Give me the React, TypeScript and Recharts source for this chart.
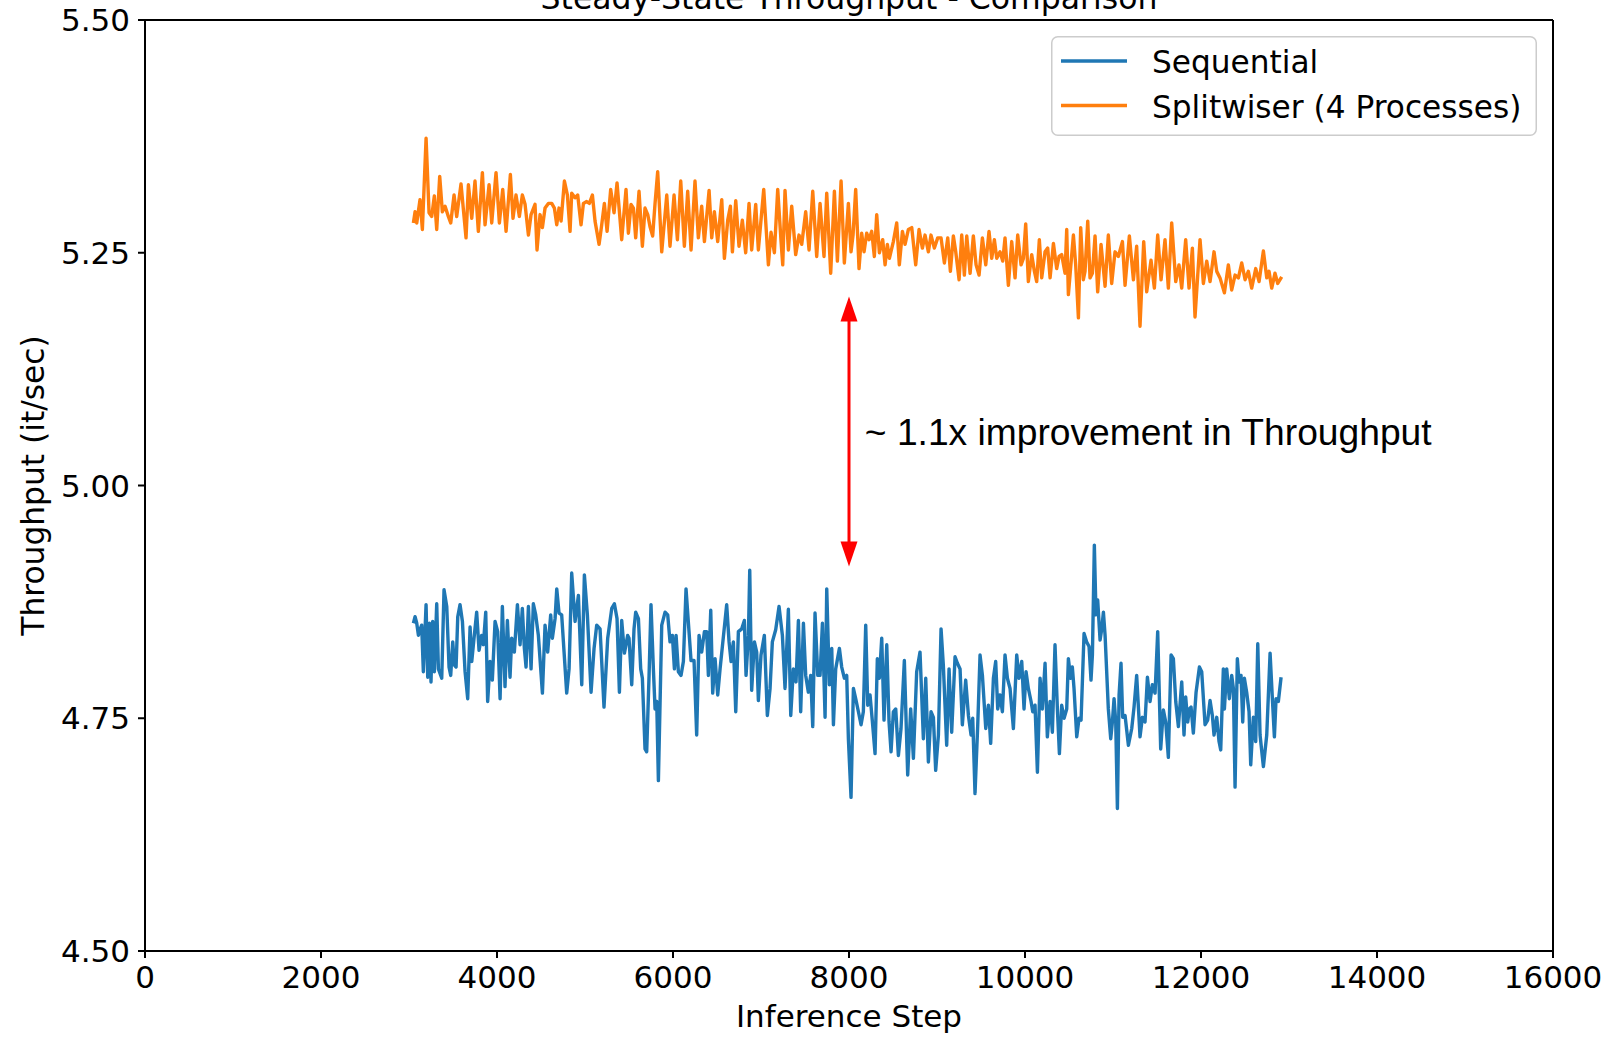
import {
  LineChart, Line, XAxis, YAxis, ReferenceLine, ReferenceDot, Legend, Label,
} from "recharts";

const FONT = '"DejaVu Sans", sans-serif';
const NOTE_FONT = '"Liberation Sans", Arial, sans-serif';

const X_TICKS = [0, 2000, 4000, 6000, 8000, 10000, 12000, 14000, 16000];
const Y_TICKS = [4.5, 4.75, 5.0, 5.25, 5.5];

// [inference step, it/sec]
const SEQUENTIAL: [number, number][] = [
  [3050, 4.852], [3069, 4.859], [3088, 4.852], [3107, 4.839], [3125, 4.845], [3144, 4.850],
  [3163, 4.800], [3194, 4.872], [3213, 4.794], [3232, 4.852], [3250, 4.789], [3269, 4.854],
  [3288, 4.800], [3315, 4.873], [3334, 4.803], [3372, 4.793], [3398, 4.888], [3429, 4.870],
  [3455, 4.805], [3474, 4.796], [3497, 4.832], [3516, 4.807], [3535, 4.805], [3554, 4.859],
  [3580, 4.872], [3607, 4.854], [3637, 4.800], [3667, 4.771], [3694, 4.848], [3713, 4.811],
  [3739, 4.836], [3769, 4.864], [3796, 4.823], [3826, 4.839], [3845, 4.829], [3872, 4.864],
  [3894, 4.768], [3921, 4.811], [3947, 4.791], [3978, 4.854], [4008, 4.843], [4035, 4.771],
  [4061, 4.870], [4091, 4.784], [4118, 4.855], [4148, 4.794], [4167, 4.836], [4197, 4.821],
  [4232, 4.872], [4262, 4.829], [4288, 4.868], [4311, 4.825], [4330, 4.805], [4357, 4.870],
  [4387, 4.803], [4413, 4.873], [4440, 4.861], [4470, 4.839], [4516, 4.777], [4546, 4.850],
  [4576, 4.821], [4610, 4.861], [4629, 4.836], [4660, 4.857], [4679, 4.889], [4705, 4.863],
  [4735, 4.861], [4792, 4.777], [4819, 4.803], [4849, 4.906], [4887, 4.854], [4925, 4.882],
  [4963, 4.786], [4993, 4.904], [5027, 4.861], [5069, 4.778], [5103, 4.825], [5133, 4.850],
  [5171, 4.846], [5216, 4.762], [5258, 4.836], [5304, 4.868], [5334, 4.873], [5364, 4.857],
  [5391, 4.778], [5417, 4.855], [5448, 4.820], [5485, 4.839], [5500, 4.836], [5531, 4.786],
  [5557, 4.846], [5576, 4.864], [5607, 4.857], [5633, 4.803], [5652, 4.793], [5682, 4.717],
  [5701, 4.714], [5728, 4.796], [5750, 4.872], [5777, 4.803], [5796, 4.760], [5815, 4.768],
  [5834, 4.683], [5872, 4.850], [5910, 4.864], [5940, 4.861], [5966, 4.832], [5993, 4.839],
  [6016, 4.803], [6035, 4.839], [6061, 4.800], [6091, 4.796], [6118, 4.811], [6148, 4.889],
  [6182, 4.843], [6205, 4.812], [6239, 4.812], [6269, 4.732], [6296, 4.839], [6326, 4.821],
  [6357, 4.843], [6383, 4.843], [6402, 4.796], [6429, 4.866], [6451, 4.777], [6478, 4.814],
  [6508, 4.775], [6535, 4.803], [6561, 4.827], [6610, 4.872], [6637, 4.832], [6660, 4.811],
  [6686, 4.832], [6713, 4.757], [6743, 4.843], [6781, 4.846], [6811, 4.855], [6830, 4.796],
  [6857, 4.839], [6872, 4.909], [6894, 4.780], [6925, 4.832], [6951, 4.821], [6970, 4.769],
  [7000, 4.818], [7038, 4.839], [7072, 4.753], [7103, 4.782], [7129, 4.832], [7167, 4.845],
  [7205, 4.870], [7243, 4.839], [7273, 4.782], [7311, 4.867], [7338, 4.753], [7368, 4.803],
  [7398, 4.789], [7425, 4.855], [7451, 4.757], [7482, 4.852], [7508, 4.796], [7538, 4.778],
  [7565, 4.796], [7588, 4.741], [7614, 4.863], [7645, 4.796], [7671, 4.796], [7698, 4.852],
  [7728, 4.751], [7747, 4.889], [7777, 4.786], [7804, 4.825], [7823, 4.743], [7849, 4.803],
  [7891, 4.825], [7917, 4.805], [7947, 4.793], [7974, 4.796], [7993, 4.728], [8023, 4.665],
  [8050, 4.782], [8076, 4.771], [8107, 4.757], [8137, 4.743], [8163, 4.757], [8190, 4.850],
  [8213, 4.764], [8239, 4.775], [8266, 4.746], [8296, 4.712], [8322, 4.814], [8345, 4.793],
  [8372, 4.836], [8398, 4.748], [8429, 4.829], [8455, 4.746], [8478, 4.714], [8504, 4.757],
  [8531, 4.760], [8561, 4.710], [8591, 4.739], [8629, 4.812], [8667, 4.689], [8701, 4.760],
  [8732, 4.707], [8769, 4.800], [8807, 4.821], [8845, 4.728], [8872, 4.793], [8902, 4.703],
  [8932, 4.757], [8959, 4.751], [8985, 4.694], [9016, 4.732], [9046, 4.846], [9072, 4.807],
  [9110, 4.721], [9137, 4.803], [9167, 4.735], [9205, 4.816], [9232, 4.809], [9262, 4.803],
  [9288, 4.743], [9326, 4.791], [9357, 4.753], [9387, 4.732], [9406, 4.750], [9432, 4.669],
  [9463, 4.743], [9489, 4.818], [9516, 4.796], [9554, 4.739], [9584, 4.764], [9610, 4.723],
  [9641, 4.793], [9667, 4.811], [9690, 4.760], [9716, 4.775], [9743, 4.757], [9773, 4.818],
  [9800, 4.793], [9830, 4.782], [9868, 4.739], [9906, 4.818], [9932, 4.793], [9963, 4.811],
  [9989, 4.760], [10012, 4.800], [10038, 4.782], [10069, 4.768], [10088, 4.757], [10114, 4.764],
  [10141, 4.692], [10171, 4.793], [10197, 4.760], [10228, 4.809], [10254, 4.730], [10285, 4.768],
  [10311, 4.735], [10341, 4.829], [10368, 4.760], [10391, 4.712], [10417, 4.764], [10444, 4.750],
  [10474, 4.760], [10493, 4.814], [10519, 4.793], [10538, 4.805], [10557, 4.782], [10588, 4.730],
  [10614, 4.750], [10637, 4.748], [10671, 4.841], [10701, 4.832], [10728, 4.827], [10750, 4.791],
  [10766, 4.818], [10788, 4.936], [10807, 4.861], [10826, 4.877], [10853, 4.834], [10872, 4.846],
  [10891, 4.864], [10910, 4.839], [10947, 4.760], [10974, 4.728], [10993, 4.746], [11012, 4.771],
  [11031, 4.746], [11050, 4.653], [11069, 4.775], [11091, 4.809], [11110, 4.751], [11137, 4.753],
  [11175, 4.721], [11213, 4.739], [11239, 4.762], [11269, 4.796], [11307, 4.730], [11334, 4.751],
  [11364, 4.746], [11391, 4.794], [11421, 4.768], [11447, 4.786], [11478, 4.777], [11508, 4.843],
  [11542, 4.717], [11572, 4.759], [11599, 4.746], [11629, 4.708], [11660, 4.818], [11686, 4.814],
  [11713, 4.768], [11743, 4.741], [11781, 4.789], [11807, 4.732], [11826, 4.773], [11849, 4.746],
  [11868, 4.760], [11887, 4.762], [11913, 4.734], [11944, 4.778], [11982, 4.805], [12008, 4.800],
  [12046, 4.743], [12076, 4.748], [12103, 4.769], [12129, 4.753], [12148, 4.732], [12179, 4.751],
  [12205, 4.725], [12224, 4.716], [12254, 4.803], [12266, 4.760], [12292, 4.803], [12322, 4.771],
  [12349, 4.796], [12368, 4.782], [12387, 4.676], [12413, 4.814], [12432, 4.789], [12455, 4.796],
  [12474, 4.746], [12493, 4.793], [12519, 4.778], [12546, 4.757], [12565, 4.700], [12595, 4.751],
  [12622, 4.725], [12645, 4.830], [12671, 4.732], [12709, 4.698], [12747, 4.732], [12785, 4.820],
  [12811, 4.771], [12834, 4.730], [12853, 4.771], [12879, 4.768], [12910, 4.794],
];

const SPLITWISER: [number, number][] = [
  [3050, 5.282], [3069, 5.294], [3088, 5.282], [3125, 5.307], [3152, 5.275], [3194, 5.373],
  [3228, 5.293], [3258, 5.289], [3288, 5.311], [3315, 5.275], [3349, 5.332], [3379, 5.294],
  [3410, 5.300], [3447, 5.289], [3474, 5.282], [3512, 5.312], [3542, 5.289], [3591, 5.324],
  [3648, 5.266], [3675, 5.323], [3713, 5.287], [3750, 5.327], [3788, 5.273], [3834, 5.336],
  [3864, 5.280], [3910, 5.323], [3940, 5.282], [3989, 5.336], [4027, 5.282], [4065, 5.318],
  [4103, 5.273], [4152, 5.334], [4182, 5.287], [4216, 5.312], [4254, 5.289], [4288, 5.312],
  [4319, 5.302], [4357, 5.269], [4387, 5.291], [4432, 5.302], [4455, 5.253], [4489, 5.291],
  [4516, 5.277], [4546, 5.298], [4584, 5.303], [4622, 5.303], [4652, 5.298], [4679, 5.280],
  [4705, 5.298], [4728, 5.284], [4766, 5.327], [4800, 5.312], [4830, 5.273], [4849, 5.314],
  [4887, 5.309], [4917, 5.312], [4955, 5.280], [4982, 5.303], [5019, 5.305], [5050, 5.303],
  [5084, 5.312], [5114, 5.284], [5160, 5.259], [5190, 5.280], [5220, 5.303], [5251, 5.273],
  [5292, 5.318], [5330, 5.293], [5364, 5.325], [5417, 5.264], [5466, 5.318], [5493, 5.271],
  [5523, 5.302], [5550, 5.298], [5576, 5.266], [5614, 5.316], [5652, 5.257], [5682, 5.298],
  [5713, 5.291], [5739, 5.278], [5769, 5.268], [5796, 5.303], [5826, 5.337], [5872, 5.251],
  [5929, 5.312], [5966, 5.257], [6012, 5.312], [6050, 5.264], [6088, 5.327], [6129, 5.257],
  [6167, 5.316], [6205, 5.253], [6250, 5.327], [6288, 5.266], [6326, 5.300], [6357, 5.262],
  [6410, 5.317], [6440, 5.266], [6470, 5.294], [6508, 5.262], [6554, 5.307], [6584, 5.244],
  [6622, 5.285], [6652, 5.300], [6675, 5.251], [6713, 5.306], [6750, 5.257], [6788, 5.285],
  [6826, 5.250], [6864, 5.303], [6894, 5.253], [6940, 5.302], [6970, 5.253], [7031, 5.318],
  [7084, 5.237], [7114, 5.272], [7152, 5.250], [7190, 5.318], [7228, 5.262], [7247, 5.237],
  [7273, 5.317], [7311, 5.253], [7349, 5.300], [7394, 5.248], [7432, 5.269], [7463, 5.259],
  [7508, 5.294], [7546, 5.253], [7588, 5.316], [7633, 5.246], [7671, 5.303], [7716, 5.246],
  [7747, 5.314], [7792, 5.228], [7834, 5.316], [7868, 5.241], [7910, 5.327], [7947, 5.239],
  [7993, 5.303], [8023, 5.251], [8046, 5.269], [8076, 5.318], [8114, 5.233], [8144, 5.271],
  [8171, 5.251], [8201, 5.271], [8228, 5.264], [8258, 5.273], [8288, 5.246], [8315, 5.291],
  [8345, 5.250], [8383, 5.264], [8410, 5.237], [8436, 5.259], [8459, 5.244], [8504, 5.262],
  [8542, 5.282], [8572, 5.237], [8607, 5.273], [8637, 5.259], [8675, 5.275], [8713, 5.277],
  [8758, 5.237], [8796, 5.275], [8834, 5.255], [8864, 5.269], [8902, 5.251], [8932, 5.269],
  [8970, 5.255], [9008, 5.266], [9046, 5.266], [9084, 5.239], [9122, 5.266], [9152, 5.230],
  [9186, 5.268], [9213, 5.251], [9251, 5.221], [9281, 5.269], [9311, 5.226], [9338, 5.268],
  [9376, 5.228], [9413, 5.268], [9444, 5.237], [9478, 5.226], [9516, 5.266], [9554, 5.237],
  [9591, 5.273], [9622, 5.244], [9652, 5.264], [9679, 5.244], [9716, 5.251], [9747, 5.241],
  [9773, 5.266], [9811, 5.215], [9849, 5.262], [9887, 5.223], [9917, 5.269], [9955, 5.237],
  [9982, 5.244], [10008, 5.281], [10038, 5.219], [10076, 5.248], [10107, 5.230], [10133, 5.219],
  [10163, 5.264], [10190, 5.223], [10228, 5.251], [10258, 5.255], [10285, 5.223], [10323, 5.260],
  [10360, 5.233], [10387, 5.246], [10417, 5.248], [10455, 5.228], [10474, 5.275], [10493, 5.205],
  [10550, 5.269], [10576, 5.237], [10607, 5.180], [10633, 5.277], [10663, 5.221], [10682, 5.230],
  [10713, 5.284], [10739, 5.223], [10766, 5.228], [10796, 5.268], [10826, 5.208], [10864, 5.259],
  [10910, 5.214], [10947, 5.269], [10985, 5.217], [11023, 5.251], [11061, 5.246], [11107, 5.262],
  [11137, 5.215], [11186, 5.268], [11232, 5.221], [11269, 5.257], [11307, 5.171], [11349, 5.262],
  [11383, 5.208], [11432, 5.242], [11470, 5.212], [11508, 5.269], [11546, 5.221], [11591, 5.264],
  [11629, 5.212], [11667, 5.282], [11713, 5.219], [11750, 5.237], [11781, 5.212], [11826, 5.264],
  [11864, 5.212], [11902, 5.255], [11932, 5.181], [11989, 5.264], [12027, 5.217], [12065, 5.241],
  [12103, 5.219], [12148, 5.251], [12179, 5.230], [12216, 5.223], [12266, 5.207], [12311, 5.237],
  [12349, 5.210], [12387, 5.226], [12425, 5.223], [12463, 5.239], [12501, 5.221], [12538, 5.230],
  [12576, 5.212], [12622, 5.233], [12660, 5.219], [12709, 5.252], [12747, 5.223], [12773, 5.230],
  [12804, 5.212], [12841, 5.228], [12872, 5.217], [12917, 5.224],
];

// red double arrow + note
const ARROW_STEP = 8000;
const ARROW_LOW = 4.913;
const ARROW_HIGH = 5.203;
const NOTE_STEP = 8180;
const NOTE_VALUE = 5.0435;
const NOTE_TEXT = "~ 1.1x improvement in Throughput";

const seqData = SEQUENTIAL.map(([step, v]) => ({ step, v }));
const splitData = SPLITWISER.map(([step, v]) => ({ step, v }));

function ArrowShape(p: any) {
  const x = p.x1;
  const top = Math.min(p.y1, p.y2);
  const bot = Math.max(p.y1, p.y2);
  const len = 25, half = 8.5;
  return (
    <g>
      <line x1={x} y1={top + len - 2} x2={x} y2={bot - len + 2} stroke="#ff0000" strokeWidth={3} />
      <polygon points={`${x},${top} ${x - half},${top + len} ${x + half},${top + len}`} fill="#ff0000" />
      <polygon points={`${x},${bot} ${x - half},${bot - len} ${x + half},${bot - len}`} fill="#ff0000" />
    </g>
  );
}

function NoteShape(p: any) {
  return (
    <text x={p.cx} y={p.cy} fontSize={37.2} fontFamily={NOTE_FONT} fill="#000">
      {NOTE_TEXT}
    </text>
  );
}

function YTitle(p: any) {
  const vb = p.viewBox || { x: 0, y: 20, height: 931 };
  const cx = vb.x + 44;
  const cy = vb.y + vb.height / 2;
  return (
    <text x={cx} y={cy} transform={`rotate(-90, ${cx}, ${cy})`} textAnchor="middle"
      fontSize={31.3} fontFamily={FONT} fill="#000">
      Throughput (it/sec)
    </text>
  );
}

function LegendBox() {
  return (
    <svg width={486} height={100} style={{ display: "block" }}>
      <rect x={0.75} y={0.75} width={484.5} height={98.5} rx={6} fill="#fff" fillOpacity={0.8} stroke="#cccccc" strokeWidth={1.5} />
      <line x1={10} y1={25} x2={76} y2={25} stroke="#1f77b4" strokeWidth={3.4} />
      <text x={101} y={37} fontSize={31.2} fontFamily={FONT} fill="#000">Sequential</text>
      <line x1={10} y1={69.5} x2={76} y2={69.5} stroke="#ff7f0e" strokeWidth={3.4} />
      <text x={101} y={82} fontSize={31.2} fontFamily={FONT} fill="#000">Splitwiser (4 Processes)</text>
    </svg>
  );
}

const tickStyle = { fill: "#000", fontSize: 31, fontFamily: FONT };

export default function App() {
  return (
    <div style={{ position: "absolute", left: 0, top: 0, width: 1606, height: 1037, background: "#fff" }}>
      {/* title, clipped at the top like the source */}
      <svg width={1606} height={30} style={{ position: "absolute", left: 0, top: 0 }}>
        <text x={849} y={9} textAnchor="middle" fontSize={31.5} fontFamily={FONT} fill="#000">
          Steady-State Throughput - Comparison
        </text>
      </svg>

      <LineChart width={1606} height={1037} margin={{ top: 20, right: 53, bottom: 0, left: 0 }}>
        <XAxis
          type="number" dataKey="step" domain={[0, 16000]} ticks={X_TICKS} interval={0}
          allowDataOverflow height={86} tickSize={7} tickMargin={8}
          axisLine={{ stroke: "#000", strokeWidth: 2 }} tickLine={{ stroke: "#000", strokeWidth: 2 }}
          tick={tickStyle}
        >
          <Label value="Inference Step" position="insideBottom" offset={10}
            style={{ fill: "#000", fontSize: 31, fontFamily: FONT }} />
        </XAxis>
        <YAxis
          type="number" domain={[4.5, 5.5]} ticks={Y_TICKS} interval={0} allowDataOverflow
          width={145} tickSize={7} tickMargin={8}
          tickFormatter={(v: number) => v.toFixed(2)}
          axisLine={{ stroke: "#000", strokeWidth: 2 }} tickLine={{ stroke: "#000", strokeWidth: 2 }}
          tick={tickStyle}
        >
          <Label content={YTitle} />
        </YAxis>

        <Line data={seqData} dataKey="v" name="Sequential" stroke="#1f77b4" strokeWidth={3.4}
          strokeLinejoin="round" dot={false} activeDot={false} isAnimationActive={false} />
        <Line data={splitData} dataKey="v" name="Splitwiser (4 Processes)" stroke="#ff7f0e" strokeWidth={3.4}
          strokeLinejoin="round" dot={false} activeDot={false} isAnimationActive={false} />

        {/* top + right spines */}
        <ReferenceLine y={5.5} stroke="#000" strokeWidth={2} />
        <ReferenceLine x={16000} stroke="#000" strokeWidth={2} />

        <ReferenceLine
          segment={[{ x: ARROW_STEP, y: ARROW_LOW }, { x: ARROW_STEP, y: ARROW_HIGH }]}
          stroke="#ff0000" strokeWidth={3} shape={ArrowShape} ifOverflow="visible"
        />
        <ReferenceDot x={NOTE_STEP} y={NOTE_VALUE} r={0} shape={NoteShape} ifOverflow="visible" />

        <Legend
          layout="vertical" align="center" verticalAlign="middle"
          wrapperStyle={{ position: "absolute", left: 1051, top: 36, width: 486, height: 100 }}
          content={() => <LegendBox />}
        />
      </LineChart>
    </div>
  );
}
